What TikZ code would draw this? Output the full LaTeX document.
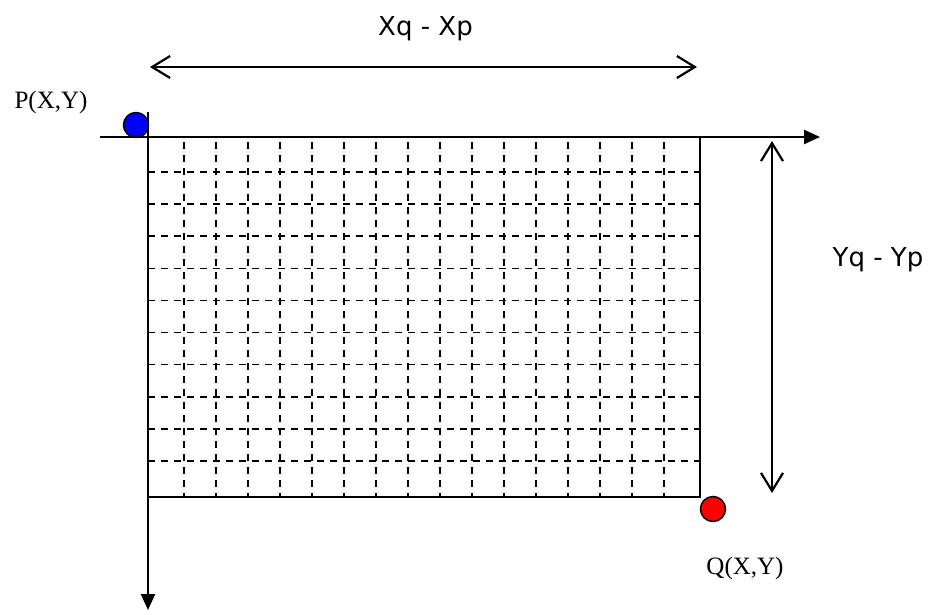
\documentclass[tikz,border=0pt]{standalone}
\usepackage{fontspec}
\setmainfont{Liberation Serif}
\newfontfamily\lblsans{DejaVu Sans}
\usetikzlibrary{arrows.meta}
\begin{document}
\begin{tikzpicture}[x=1pt,y=-1pt,
 axis/.style={line width=2.4pt,-{Triangle[length=16pt,width=14pt]}},
 frame/.style={line width=1.8pt},
 gridline/.style={line width=1.6pt,dash pattern=on 7pt off 6pt},
 dim/.style={line width=2.2pt,{Straight Barb[length=18pt,width=22pt]}-{Straight Barb[length=18pt,width=22pt]}},
 dot/.style={circle,draw=black,line width=1.5pt,minimum size=25pt,inner sep=0pt},
 serlbl/.style={font=\fontsize{25}{30}\selectfont},
 sanslbl/.style={font=\lblsans\fontsize{26}{31}\selectfont,anchor=base}]
\useasboundingbox (0,0) rectangle (930,614);
% grid
\foreach \i in {0,...,15}
  \draw[gridline,dash phase=-5pt] ({184+32*\i},137) -- ({184+32*\i},497);
\foreach \j in {0,...,9}
  \draw[gridline] (148,{172+32.1*\j}) -- (700,{172+32.1*\j});
% frame
\coordinate (bl) at (148,497);
\coordinate (br) at (700,497);
\coordinate (tr) at (700,137);
\draw[frame] (bl) -- (br) -- (tr);
% dots
\node[dot,fill=blue] (p) at (136,125) {};
\node[dot,fill=red] (q) at (713,509) {};
% axes
\coordinate (hs) at (100,137);
\coordinate (he) at (820,137);
\coordinate (vs) at (148,112);
\coordinate (ve) at (148,610);
\draw[axis] (hs) -- (he);
\draw[axis] (vs) -- (ve);
% dimension arrows
\coordinate (xl) at (150,67);
\coordinate (xr) at (697,67);
\draw[dim] (xl) -- (xr);
\coordinate (yt) at (772,141);
\coordinate (yb) at (772,493);
\draw[dim] (yt) -- (yb);
% labels
\node[serlbl] (plbl) at (51,102) {P(X,Y)};
\node[serlbl] (qlbl) at (745,568) {Q(X,Y)};
\node[sanslbl] (xlbl) at (425.5,35) {Xq - Xp};
\node[sanslbl] (ylbl) at (878,266) {Yq - Yp};
\end{tikzpicture}
\end{document}
